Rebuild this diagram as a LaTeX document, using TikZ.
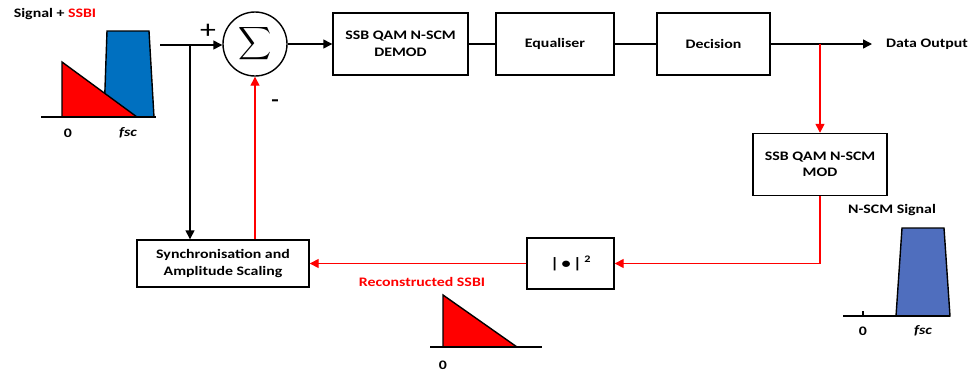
\documentclass[tikz,border=0pt]{standalone}
\usepackage{fontspec}
\setmainfont{Carlito}[FakeStretch=1.22]
\usetikzlibrary{arrows.meta}
\definecolor{ssbired}{RGB}{255,0,0}
\definecolor{sigblue}{RGB}{0,112,192}
\definecolor{nscmblue}{RGB}{79,110,190}
\begin{document}
\begin{tikzpicture}[x=1pt,y=-1pt,
  every node/.style={font=\fontsize{13}{16.5}\selectfont\bfseries},
  blk/.style={draw, line width=1.4pt, minimum width=#1, minimum height=62pt, align=center, inner sep=0pt},
  blk/.default=135pt,
  conn/.style={line width=1.4pt},
  arr/.style={conn, -{Triangle[length=9pt,width=9pt]}},
  redarr/.style={arr, draw=ssbired, fill=ssbired},
  spec/.style={line width=1.4pt, line join=miter},
  lbl/.style={inner sep=0pt}]
\useasboundingbox (0,0) rectangle (971,373);

% input spectrum
\node[lbl] (inlbl) at (55,14) {Signal + \textcolor{ssbired}{SSBI}};
\draw[spec, fill=sigblue] (107,31) -- (149,31) -- (154,117) -- (104,117) -- cycle;
\draw[spec, fill=ssbired] (62,62) -- (62,117) -- (137,117) -- cycle;
\draw[spec] (41,117) -- (156,117);
\node[lbl] (in0) at (68,133) {0};
\node[lbl] (infsc) at (128,133) {\itshape fsc};

% summing junction
\node[draw, circle, line width=1.4pt, minimum size=64pt, inner sep=0pt] (sum) at (255,44)
  {\normalfont\scalebox{2.3}{$\displaystyle\sum$}};
\coordinate (start) at (160,45);
\coordinate (tap) at (190,45);
\node[lbl, font=\fontsize{26}{26}\selectfont] (plus) at (208,31) {+};
\node[lbl, font=\fontsize{20}{20}\selectfont\bfseries] (minus) at (275,103) {-};

% top row blocks
\node[blk=135pt] (demod) at (400.5,44) {SSB QAM N-SCM\\DEMOD};
\node[blk=118pt] (eq) at (555,44) {Equaliser};
\node[blk=113pt] (dec) at (713.5,44) {Decision};
\coordinate (out) at (872,44);
\node[lbl, anchor=west] (outlbl) at (886,44) {Data Output};
\coordinate (branch) at (820,44);

% feedback blocks
\node[blk=134pt] (mod) at (820,164.5) {SSB QAM N-SCM\\MOD};
\node[draw, line width=1.4pt, minimum width=87pt, minimum height=51pt, inner sep=0pt] (sq) at (570.5,263.5)
  {\fontsize{15}{15}\selectfont |\,•\,|\,\raisebox{6pt}{\fontsize{10}{10}\selectfont 2}};
\node[blk=172pt, minimum height=47pt] (sync) at (223,263.5) {Synchronisation and\\Amplitude Scaling};
\coordinate (corner) at (820,263.5);

% connectors
\draw[conn] (start) -- (tap);
\draw[arr] (tap) -- (sum.west |- tap);
\draw[arr] (tap) -- (sync.north -| tap);
\draw[arr] (sum.east) -- (demod.west);
\draw[conn] (demod.east) -- (eq.west);
\draw[conn] (eq.east) -- (dec.west);
\draw[arr] (dec.east) -- (out);
\draw[redarr] (branch) -- (mod.north);
\draw[conn, draw=ssbired] (mod.south) -- (corner);
\draw[redarr] (corner) -- (sq.east);
\draw[redarr] (sq.west) -- (sync.east);
\draw[redarr] (sync.north -| sum.south) -- (sum.south);

% reconstructed SSBI
\node[lbl, text=ssbired] (reclbl) at (422,282) {Reconstructed SSBI};
\draw[spec, fill=ssbired] (443,295) -- (443,347) -- (517,347) -- cycle;
\draw[spec] (430,347) -- (542,347);
\node[lbl] (rec0) at (443,365) {0};

% N-SCM signal spectrum
\node[lbl] (nscmlbl) at (892,210) {N-SCM Signal};
\draw[spec, fill=nscmblue] (902,228) -- (944,228) -- (950,316) -- (896,316) -- cycle;
\draw[spec] (843,316) -- (950,316);
\draw[spec] (863,311) -- (863,316);
\node[lbl] (n0) at (863,331) {0};
\node[lbl] (nfsc) at (923,331) {\itshape fsc};
\end{tikzpicture}
\end{document}
